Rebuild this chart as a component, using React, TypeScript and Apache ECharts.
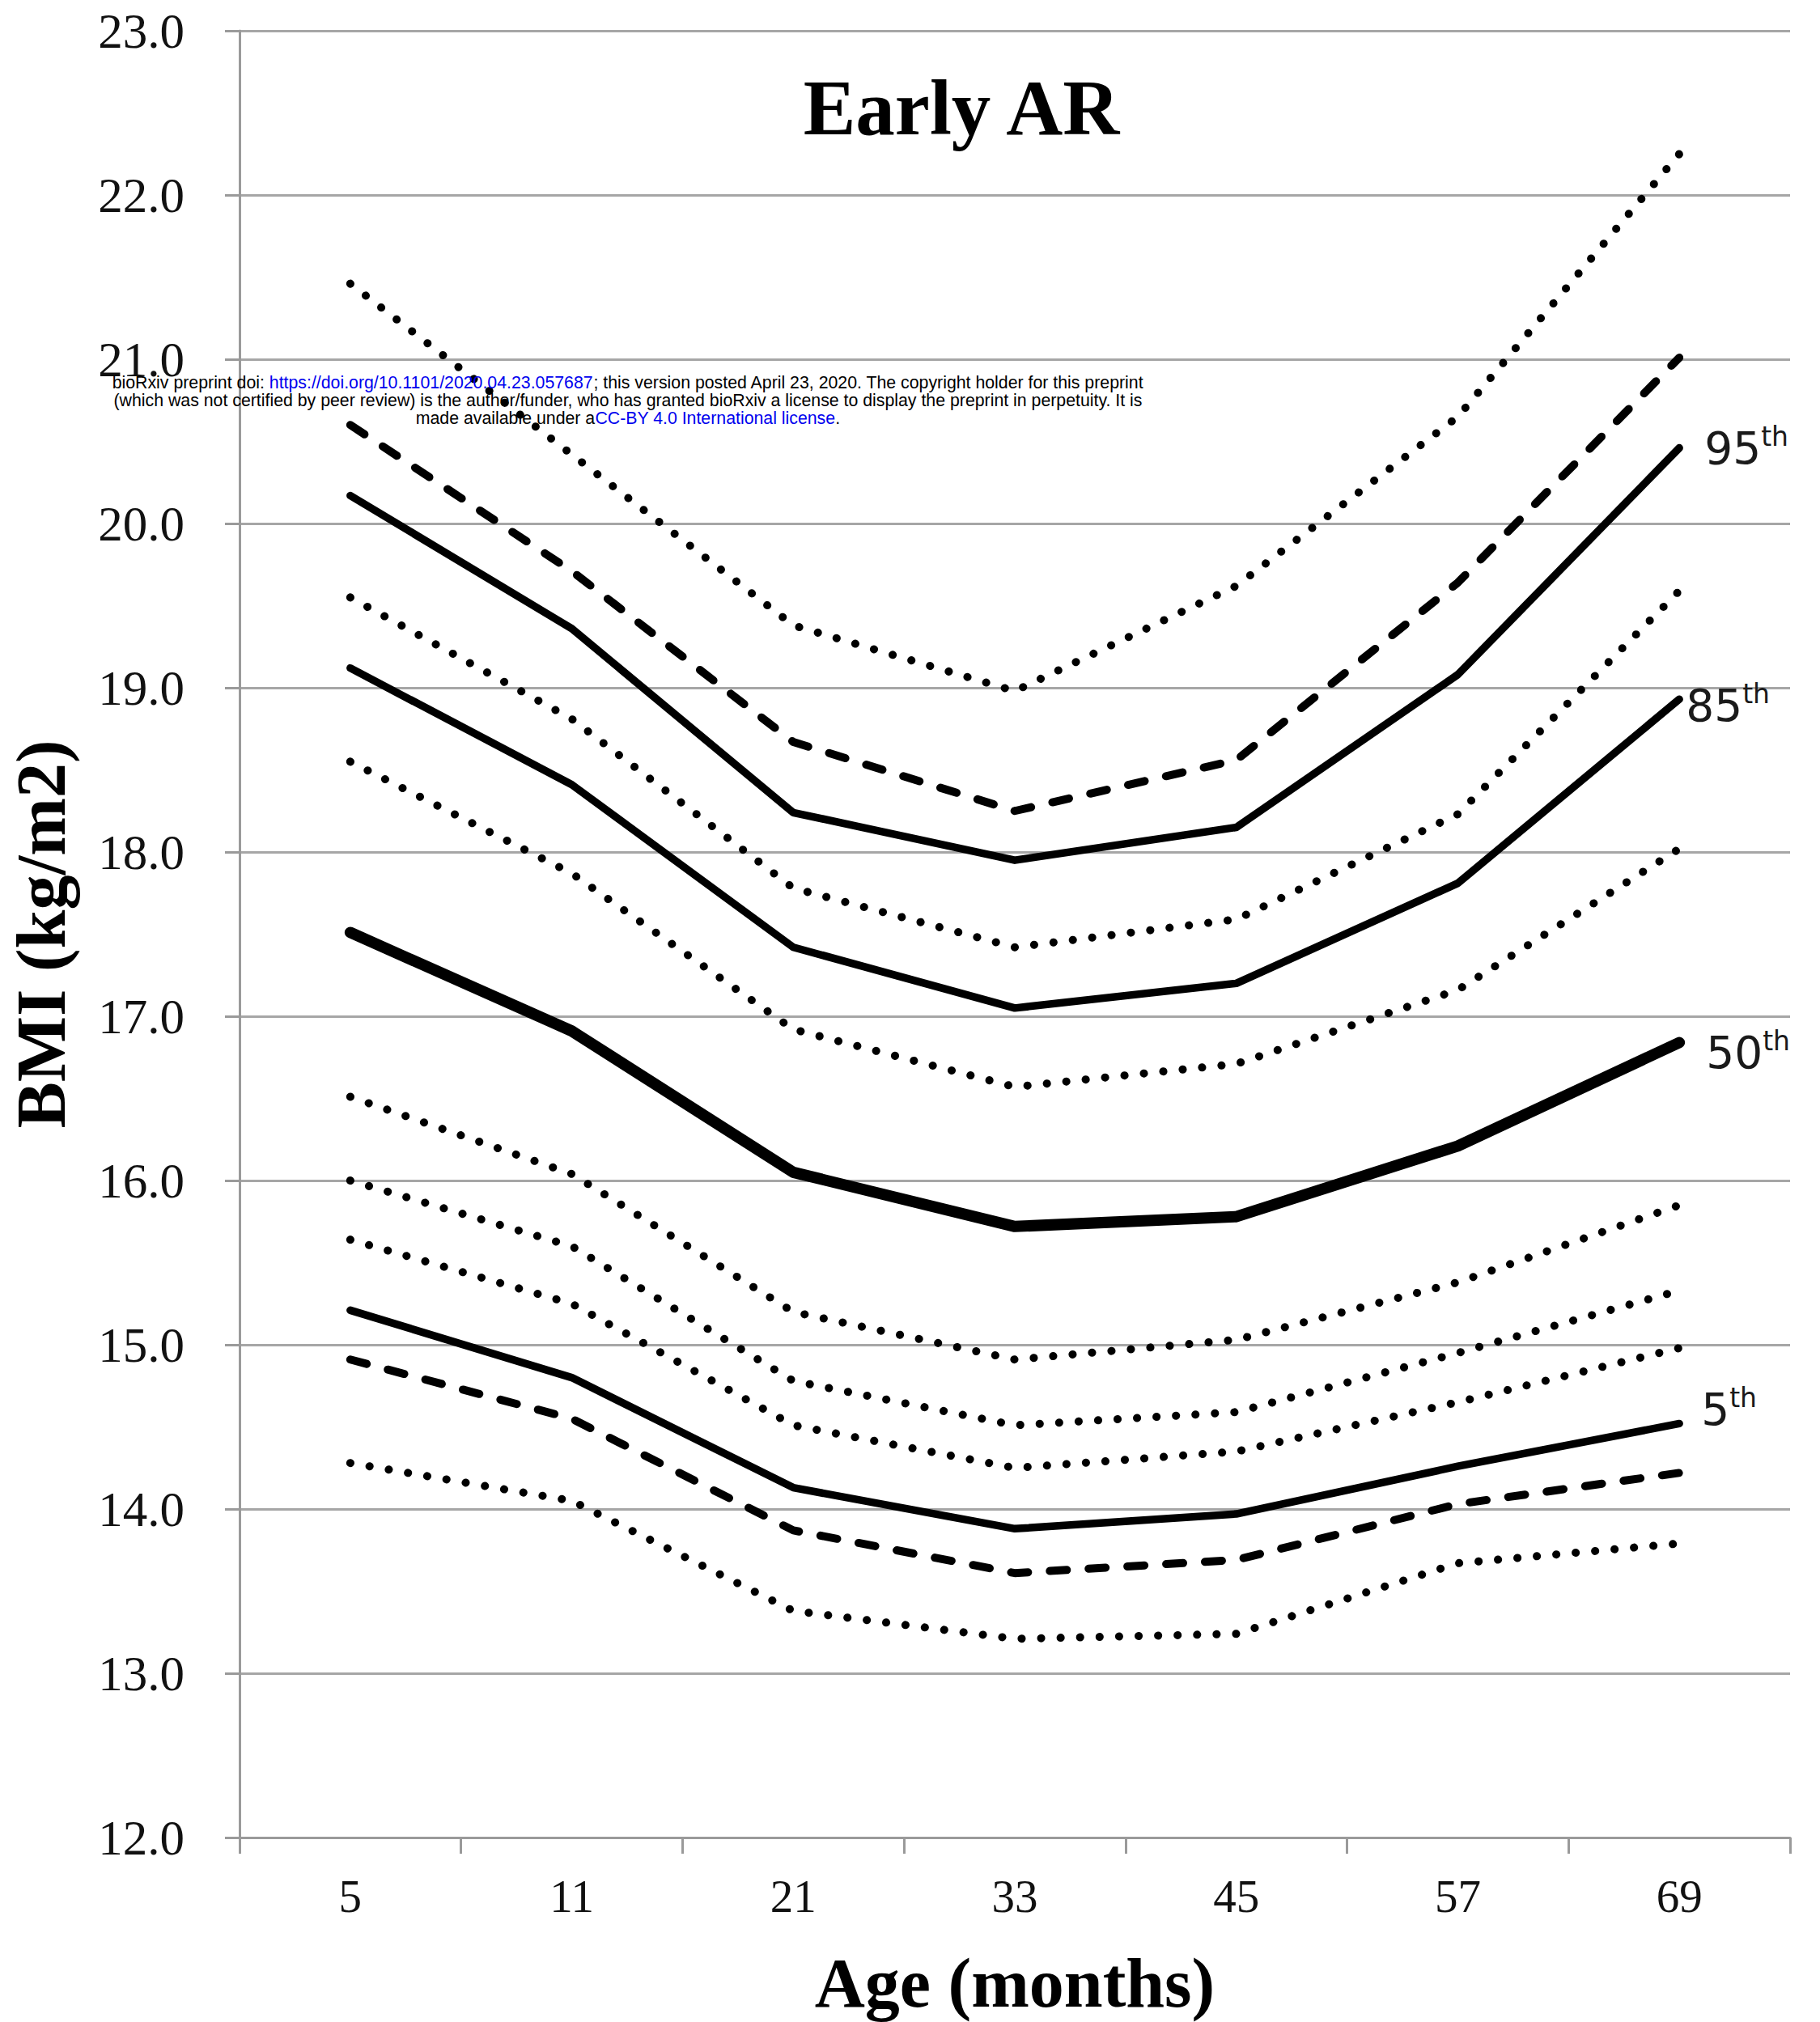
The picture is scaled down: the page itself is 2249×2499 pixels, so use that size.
import React, { useEffect, useRef } from "react";
import * as echarts from "echarts";

// Age at measurement (months)
const ages = ["5", "11", "21", "33", "45", "57", "69"];

// BMI percentile curves (kg/m2), top to bottom
const p99 = [21.46, 20.42, 19.38, 18.98, 19.62, 20.65, 22.25];
const p97 = [20.6, 19.71, 18.67, 18.25, 18.56, 19.64, 21.01];
const p95 = [20.17, 19.36, 18.24, 17.95, 18.15, 19.08, 20.46];
const p90 = [19.55, 18.81, 17.78, 17.42, 17.59, 18.23, 19.59];
const p85 = [19.12, 18.41, 17.42, 17.05, 17.2, 17.81, 18.93];
const p75 = [18.55, 17.87, 16.92, 16.57, 16.71, 17.16, 18.02];
const p50 = [17.51, 16.91, 16.05, 15.72, 15.78, 16.21, 16.84];
const p25 = [16.51, 16.04, 15.2, 14.91, 15.03, 15.38, 15.85];
const p15 = [16.0, 15.6, 14.78, 14.51, 14.59, 14.95, 15.33];
const p10 = [15.64, 15.25, 14.51, 14.25, 14.35, 14.65, 14.98];
const p5 = [15.21, 14.8, 14.13, 13.88, 13.97, 14.26, 14.52];
const p3 = [14.91, 14.55, 13.87, 13.61, 13.69, 14.03, 14.22];
const p1 = [14.28, 14.05, 13.38, 13.21, 13.24, 13.67, 13.79];

// Y axis range and step
const yMin = 12;
const yMax = 23;
const yStep = 1;

const SERIF = "'Liberation Serif', 'Times New Roman', serif";
const SANS = "'DejaVu Sans', Verdana, sans-serif";
const ARIAL = "'Liberation Sans', Arial, sans-serif";

const solid = { type: "solid" as const, width: 9.5 };
const thick = { type: "solid" as const, width: 14 };
const dashed = { type: [21, 27], width: 10 };
const dotted = { type: [0.1, 24], width: 10 };

const labelRich = {
  n: { fontFamily: SANS, fontSize: 55, color: "#1a1a1a", lineHeight: 62 },
  s: { fontFamily: SANS, fontSize: 33, color: "#1a1a1a", verticalAlign: "top" as const, lineHeight: 62 },
};

function pctLabel(num: string, offset: [number, number]) {
  return {
    show: true,
    formatter: `{n|${num}}{s|th}`,
    distance: 0,
    offset,
    rich: labelRich,
  };
}

function curve(name: string, data: number[], style: any, endLabel?: any) {
  return {
    name,
    type: "line",
    data,
    symbol: "none",
    silent: true,
    lineStyle: { color: "#000", cap: "round", join: "round", ...style },
    endLabel,
    labelLayout: { hideOverlap: false },
    z: 3,
  };
}

export default function App() {
  const ref = useRef<HTMLDivElement>(null);

  useEffect(() => {
    document.body.style.margin = "0";
    document.body.style.overflow = "hidden";
    const chart = echarts.init(ref.current!, null, { renderer: "svg" });

    // preprint notice lines, centred on x = 776
    const noticeLine = (text: string, y: number) => ({
      type: "text",
      x: 776,
      y,
      z: 100,
      silent: true,
      style: {
        text,
        align: "center",
        verticalAlign: "middle",
        fontFamily: ARIAL,
        fontSize: 21.3,
        fill: "#000",
        rich: {
          l: { fontFamily: ARIAL, fontSize: 21.3, fill: "#0000ee" },
        },
      },
    });

    chart.setOption({
      animation: false,
      backgroundColor: "#fff",
      title: {
        text: "Early AR",
        left: 1183,
        top: 80,
        textAlign: "center",
        textStyle: { fontFamily: SERIF, fontWeight: "bold", fontSize: 97, color: "#000" },
      },
      grid: { left: 290, right: 37, top: 38, bottom: 224, containLabel: false },
      xAxis: {
        type: "category",
        data: ages,
        boundaryGap: true,
        name: "Age (months)",
        nameLocation: "middle",
        nameGap: 137,
        nameTextStyle: { fontFamily: SERIF, fontWeight: "bold", fontSize: 86, color: "#000" },
        axisLine: { lineStyle: { color: "#9a9a9a", width: 3 } },
        axisTick: { show: true, length: 20, alignWithLabel: false, lineStyle: { color: "#9a9a9a", width: 3 } },
        axisLabel: { fontFamily: SERIF, fontSize: 57, color: "#111", margin: 44 },
        splitLine: { show: false },
      },
      yAxis: {
        type: "value",
        min: yMin,
        max: yMax,
        interval: yStep,
        name: "BMI (kg/m2)",
        nameLocation: "middle",
        nameGap: 202,
        nameRotate: 90,
        nameTextStyle: { fontFamily: SERIF, fontWeight: "bold", fontSize: 86, color: "#000" },
        axisLine: { show: true, lineStyle: { color: "#9a9a9a", width: 3 } },
        axisTick: { show: true, length: 18, lineStyle: { color: "#9a9a9a", width: 3 } },
        axisLabel: {
          fontFamily: SERIF,
          fontSize: 61,
          color: "#111",
          margin: 68,
          formatter: (v: number) => v.toFixed(1),
        },
        splitLine: { show: true, lineStyle: { color: "#a6a6a6", width: 3 } },
      },
      series: [
        curve("99th", p99, dotted),
        curve("97th", p97, dashed),
        curve("95th", p95, solid, pctLabel("95", [31, 0])),
        curve("90th", p90, dotted),
        curve("85th", p85, solid, pctLabel("85", [8, 8])),
        curve("75th", p75, dotted),
        curve("50th", p50, thick, pctLabel("50", [33, 13])),
        curve("25th", p25, dotted),
        curve("15th", p15, dotted),
        curve("10th", p10, dotted),
        curve("5th", p5, solid, pctLabel("5", [27, -17])),
        curve("3rd", p3, dashed),
        curve("1st", p1, dotted),
      ],
      graphic: [
        noticeLine(
          "bioRxiv preprint doi: {l|https://doi.org/10.1101/2020.04.23.057687}; this version posted April 23, 2020. The copyright holder for this preprint",
          473
        ),
        noticeLine(
          "(which was not certified by peer review) is the author/funder, who has granted bioRxiv a license to display the preprint in perpetuity. It is",
          495
        ),
        noticeLine("made available under a{l|CC-BY 4.0 International license}.", 517),
      ],
    });

    return () => chart.dispose();
  }, []);

  return <div ref={ref} style={{ width: 2249, height: 2499 }} />;
}
